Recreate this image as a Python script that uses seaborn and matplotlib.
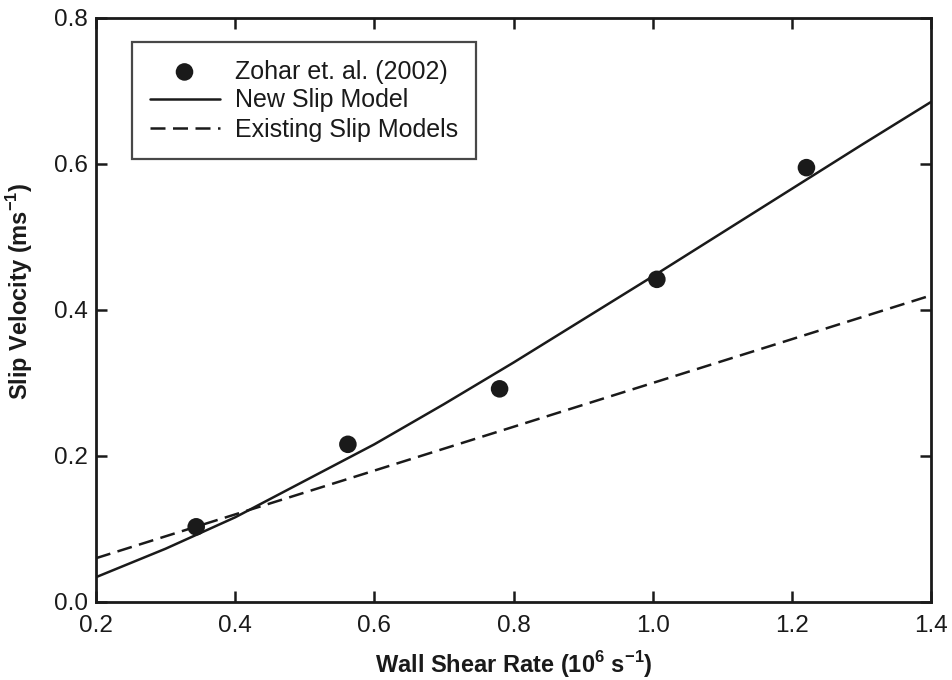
import matplotlib
matplotlib.use("Agg")
import matplotlib.pyplot as plt
import seaborn as sns
import pandas as pd

# Experimental data (Zohar et al. 2002)
exp_rate = [0.344, 0.562, 0.780, 1.006, 1.221]
exp_vel = [0.103, 0.216, 0.292, 0.442, 0.595]

# New slip model curve
new_rate = [0.2, 0.3, 0.4, 0.5, 0.6, 0.7, 0.8, 0.9, 1.0, 1.1, 1.2, 1.3, 1.4]
new_vel = [0.034, 0.073, 0.116, 0.166, 0.216, 0.271, 0.328, 0.387, 0.446, 0.506, 0.566, 0.626, 0.685]

# Existing slip models (straight line)
old_rate = [0.2, 0.6, 1.0, 1.4]
old_vel = [0.060, 0.180, 0.300, 0.420]

x_ticks = [0.2, 0.4, 0.6, 0.8, 1.0, 1.2, 1.4]
y_ticks = [0.0, 0.2, 0.4, 0.6, 0.8]

sns.set_theme(style="ticks")
plt.rcParams["font.family"] = ["Liberation Sans", "DejaVu Sans"]
plt.rcParams["mathtext.fontset"] = "custom"
plt.rcParams["mathtext.rm"] = "Liberation Sans"
plt.rcParams["mathtext.bf"] = "Liberation Sans:bold"

INK = "#1a1a1a"

fig = plt.figure(figsize=(9.52, 6.8), dpi=100)
ax = fig.add_axes([96 / 952, 1 - 602 / 680, 835 / 952, 584 / 680])

df_new = pd.DataFrame({"x": new_rate, "y": new_vel})
df_old = pd.DataFrame({"x": old_rate, "y": old_vel})
df_exp = pd.DataFrame({"x": exp_rate, "y": exp_vel})

sns.lineplot(data=df_new, x="x", y="y", ax=ax, color=INK, lw=1.8,
             label="New Slip Model", sort=True)
sns.lineplot(data=df_old, x="x", y="y", ax=ax, color=INK, lw=1.8,
             label="Existing Slip Models", sort=True)
ax.lines[1].set_dashes([6.0, 3.0])
sns.scatterplot(data=df_exp, x="x", y="y", ax=ax, color=INK, s=160,
                edgecolor="none", label="Zohar et. al. (2002)", zorder=5)

ax.set_xlim(0.2, 1.4)
ax.set_ylim(0.0, 0.8)
ax.set_xticks(x_ticks)
ax.set_yticks(y_ticks)
ax.set_xticklabels([f"{v:.1f}" for v in x_ticks])
ax.set_yticklabels([f"{v:.1f}" for v in y_ticks])
ax.tick_params(direction="in", length=8, width=1.8, top=True, right=True,
               labelsize=17.5, color=INK, labelcolor=INK)
ax.tick_params(axis="x", pad=9)
ax.tick_params(axis="y", pad=6)
for sp in ax.spines.values():
    sp.set_linewidth(2.0)
    sp.set_color(INK)

ax.set_xlabel(r"Wall Shear Rate (10$^{\mathbf{6}}$ s$^{\mathbf{-1}}$)",
              fontsize=17, fontweight="bold", color=INK, labelpad=9)
ax.set_ylabel(r"Slip Velocity (ms$^{\mathbf{-1}}$)",
              fontsize=17, fontweight="bold", color=INK)
ax.yaxis.set_label_coords(-0.073, 0.532)

handles, labels = ax.get_legend_handles_labels()
order = [labels.index("Zohar et. al. (2002)"), labels.index("New Slip Model"),
         labels.index("Existing Slip Models")]
leg = ax.legend([handles[i] for i in order], [labels[i] for i in order],
                loc="upper left", bbox_to_anchor=(36 / 835, 1 - 24 / 584),
                borderaxespad=0, fontsize=18, frameon=True, fancybox=False,
                edgecolor=INK, handlelength=2.8, handletextpad=0.62,
                labelspacing=0.2, borderpad=0.7, markerscale=1.0)
leg.get_frame().set_linewidth(1.6)
for t in leg.get_texts():
    t.set_color(INK)

fig.savefig("out.png", dpi=100, facecolor="white")
